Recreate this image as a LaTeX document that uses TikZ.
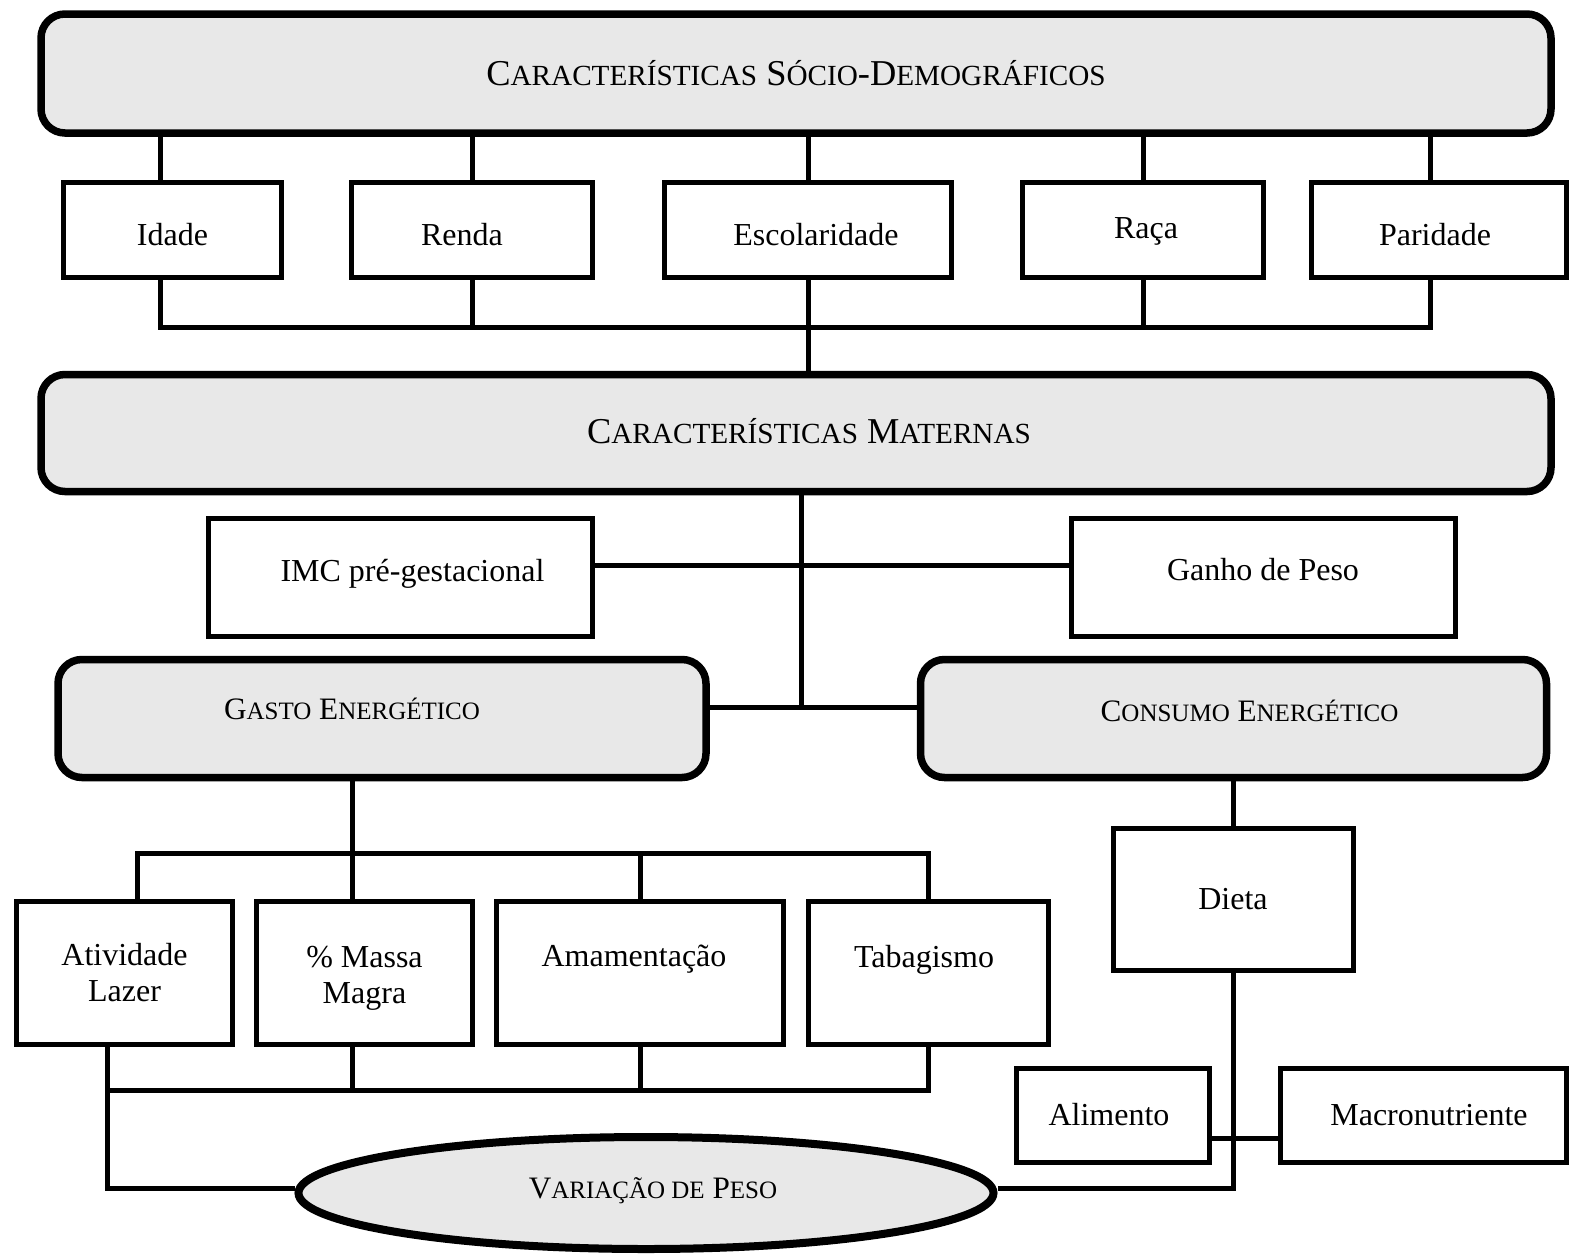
\documentclass[tikz,border=0pt]{standalone}
\usepackage{fontspec}
\setmainfont{Liberation Serif}
\usepackage{xcolor}
\usepackage{tikz}
\usetikzlibrary{shapes.geometric}
\definecolor{panel}{HTML}{E8E8E8}
\newcommand{\scA}[1]{{\fontsize{14.6}{17}\selectfont #1}}
\newcommand{\scB}[1]{{\fontsize{12.5}{15}\selectfont #1}}
\tikzset{round box/.style={draw,line width=3.75pt,rounded corners=12pt,fill=panel,inner sep=0pt},
	plain box/.style={draw,line width=2.5pt,fill=white,align=center,inner sep=0pt},
	link/.style={line width=2.5pt},
	head label/.style={font=\fontsize{18.2}{22}\selectfont},
	sub label/.style={font=\fontsize{15.6}{19}\selectfont}}

\begin{document}
\begin{tikzpicture}[x=0.5pt,y=-0.5pt,font=\fontsize{16}{18}\selectfont]
			\useasboundingbox (0,0) rectangle (1571,1260);
			% top level
			\node[round box,head label,minimum width=755pt,minimum height=59.5pt] (socio) at (796,73.5) {C\scA{ARACTERÍSTICAS} S\scA{ÓCIO}-D\scA{EMOGRÁFICOS}};
			\node[plain box,minimum width=109pt,minimum height=47.5pt,label={[yshift=-2.5pt]center:Idade}] (idade) at (172.5,229.5) {};
			\node[plain box,minimum width=120.5pt,minimum height=47.5pt,label={[xshift=-5pt,yshift=-2.5pt]center:Renda}] (renda) at (472,229.5) {};
			\node[plain box,minimum width=143.5pt,minimum height=47.5pt,label={[xshift=4pt,yshift=-2.5pt]center:Escolaridade}] (escol) at (808,229.5) {};
			\node[plain box,minimum width=120.5pt,minimum height=47.5pt,label={[xshift=1.5pt,yshift=-1pt]center:Raça}] (raca) at (1143,229.5) {};
			\node[plain box,minimum width=127.5pt,minimum height=47.5pt,label={[xshift=-2pt,yshift=-2.5pt]center:Paridade}] (parid) at (1439,229.5) {};
			\node[round box,minimum width=755pt,minimum height=58.5pt,
				label={[head label,xshift=6.5pt,yshift=1pt]center:C\scA{ARACTERÍSTICAS} M\scA{ATERNAS}}] (matern) at (796,433) {};
			\node[plain box,minimum width=192pt,minimum height=59pt,label={[xshift=6pt,yshift=1.5pt]center:IMC pré-gestacional}] (imc) at (400.5,577) {};
			\node[plain box,minimum width=192pt,minimum height=59pt,label={[yshift=3.5pt]center:Ganho de Peso}] (ganho) at (1263,577) {};
			\node[round box,minimum width=324pt,minimum height=59pt,
				label={[sub label,xshift=-15pt,yshift=5pt]center:G\scB{ASTO} E\scB{NERGÉTICO}}] (gasto) at (382,718.5) {};
			\node[round box,minimum width=313pt,minimum height=59pt,
				label={[sub label,xshift=8pt,yshift=4pt]center:C\scB{ONSUMO} E\scB{NERGÉTICO}}] (consumo) at (1233.5,718.5) {};
			% expenditure side
			\node[plain box,minimum width=108pt,minimum height=71.5pt] (ativ) at (124.5,972.5) {Atividade\\Lazer};
			\node[plain box,minimum width=108pt,minimum height=71.5pt,label={[align=center,yshift=-3pt]center:\% Massa\\Magra}] (massa) at (364.5,972.5) {};
			\node[plain box,minimum width=143.5pt,minimum height=71.5pt,label={[xshift=-3pt,yshift=6.5pt]center:Amamentação}] (amam) at (640,972.5) {};
			\node[plain box,minimum width=120pt,minimum height=71.5pt,label={[xshift=-2pt,yshift=6.5pt]center:Tabagismo}] (tabag) at (928,972.5) {};
			% intake side
			\node[plain box,minimum width=120pt,minimum height=71pt] (dieta) at (1233,899) {Dieta};
			\node[plain box,minimum width=96.5pt,minimum height=47pt,label={[xshift=-2pt]center:Alimento}] (alim) at (1113,1115) {};
			\node[plain box,minimum width=143pt,minimum height=47pt,label={[xshift=3pt]center:Macronutriente}] (macro) at (1423,1115) {};
			\node[ellipse,draw,line width=4pt,fill=panel,inner sep=0pt,minimum width=347.5pt,minimum height=56pt,
				label={[sub label,xshift=3.5pt,yshift=1pt]center:V\scB{ARIAÇÃO DE} P\scB{ESO}}] (varia) at (646,1193) {};
			% connectors
			\foreach \n/\dx in {idade/-6.25,renda/0,escol/0,raca/0,parid/-4.5}
				\draw[link] ([xshift=\dx pt]\n.north) -- ([xshift=\dx pt]\n.north |- socio.south);
			\draw[link] ([xshift=-6.25pt]idade.south) -- ++(0,48) coordinate (bus) -| ([xshift=-4.5pt]parid.south);
			\foreach \n in {renda,raca}
				\draw[link] (\n.south) -- (\n.south |- bus);
			\draw[link] (escol.south) -- (escol.south |- matern.north);
			\coordinate (hub) at (801,707);
			\draw[link] (matern.south -| hub) -- (hub);
			\draw[link] (gasto.east |- hub) -- (consumo.west |- hub);
			\draw[link] ([yshift=6pt]imc.east) -- ([yshift=6pt]ganho.west);
			\coordinate (split) at (352,853);
			\draw[link] (gasto.south -| split) -- (massa.north -| split);
			\draw[link] ([xshift=6.25pt]ativ.north) |- (split) -| (tabag.north);
			\draw[link] (amam.north) -- (amam.north |- split);
			\coordinate (merge) at (352,1090);
			\coordinate (drop) at (107,1090);
			\draw[link] (massa.south -| merge) -- (merge);
			\draw[link] (amam.south) -- (amam.south |- merge);
			\draw[link] (ativ.south -| drop) -- (drop);
			\draw[link] (tabag.south) |- (drop) |- ([yshift=2.5pt]varia.west);
			\draw[link] (consumo.south -| dieta.north) -- (dieta.north);
			\draw[link] (dieta.south) |- ([yshift=2.5pt]varia.east);
			\draw[link] ([yshift=-11.5pt]alim.east) -- ([yshift=-11.5pt]macro.west);
		\end{tikzpicture}
\end{document}
